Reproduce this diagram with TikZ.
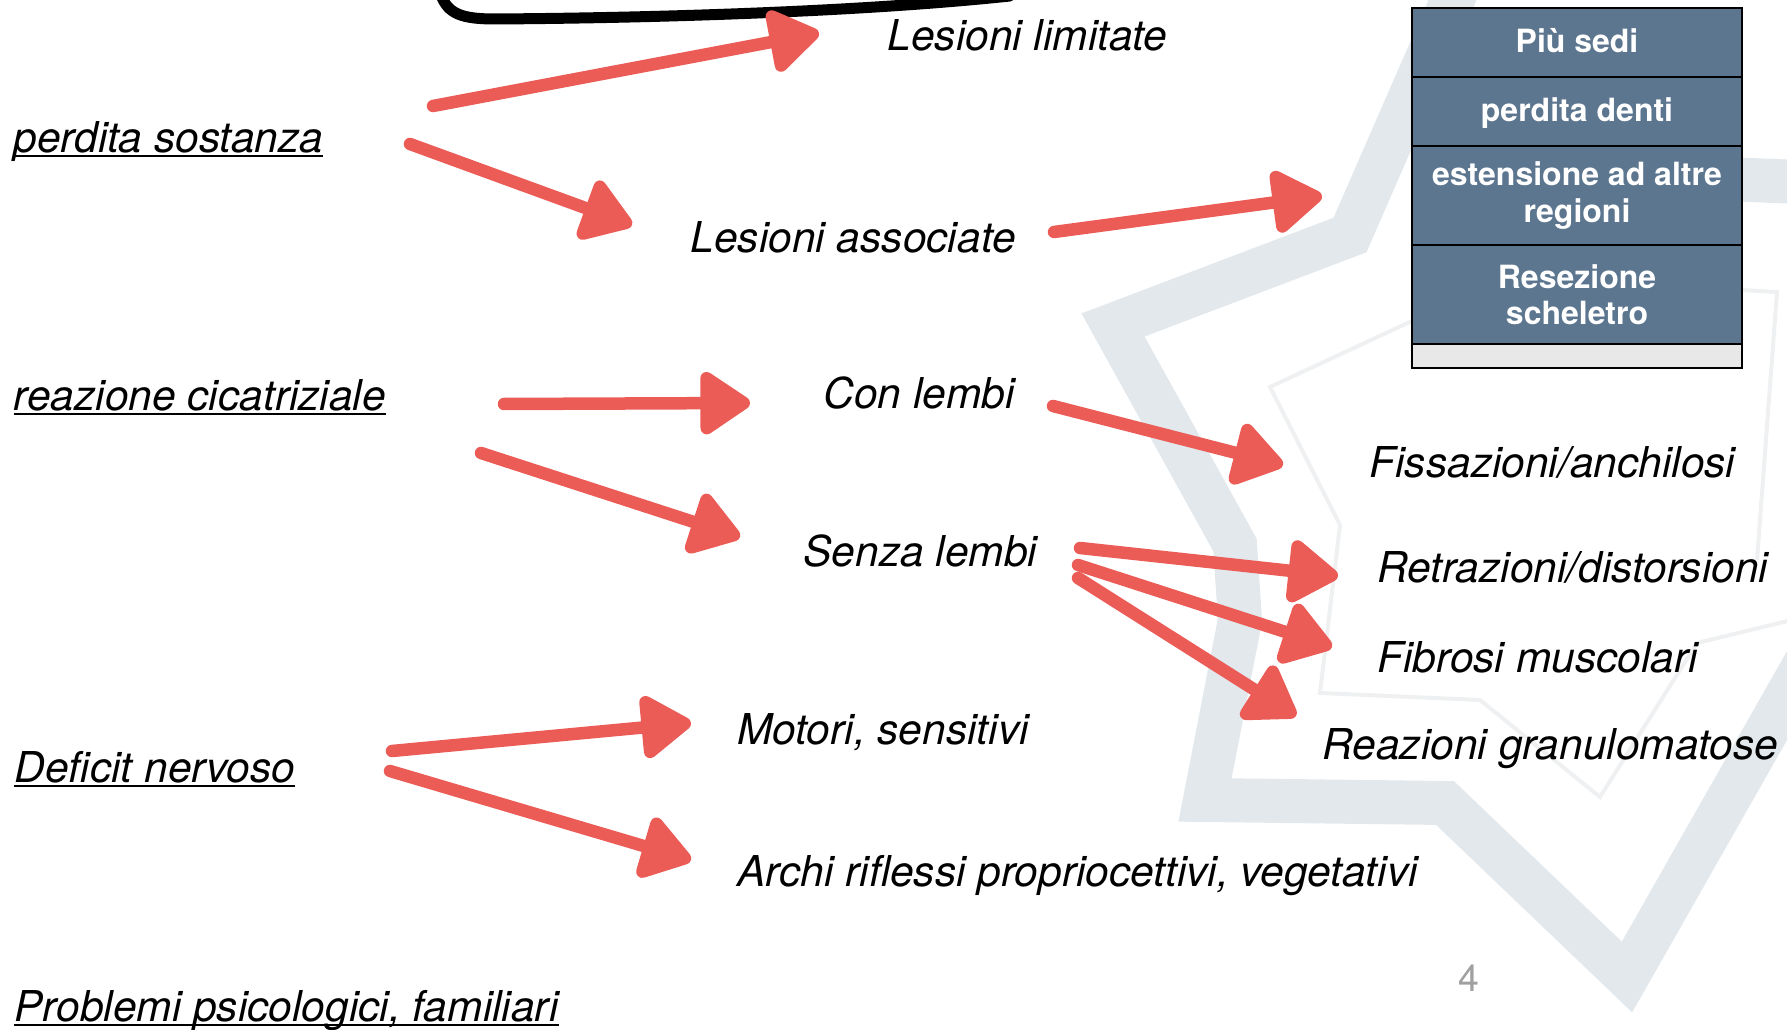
\documentclass[tikz,border=0pt]{standalone}
\usepackage{fontspec}
\setmainfont{TeX Gyre Heros}
\usetikzlibrary{arrows.meta}
\definecolor{arrowred}{RGB}{236,92,87}
\definecolor{tabfill}{RGB}{93,118,143}
\definecolor{tablast}{RGB}{232,232,232}
\definecolor{starband}{RGB}{226,232,236}
\definecolor{starline}{RGB}{239,240,241}
\definecolor{pagegray}{RGB}{160,160,160}
\newcommand{\ulx}[1]{\setbox0\hbox{#1}\rlap{\rule[-1.6pt]{\wd0}{0.8pt}}\box0}
\begin{document}
\begin{tikzpicture}[x=0.4pt,y=-0.4pt,
  lbl/.style={anchor=base west, inner sep=0pt, font=\fontsize{17}{20}\selectfont\itshape},
  rarrow/.style={draw=arrowred, line width=5pt, line cap=round,
    -{Triangle[length=22pt,width=28pt,round]}},
  cell/.style={draw=black, line width=0.8pt, fill=tabfill, text=white,
    font=\fontsize{12.8}{14.6}\selectfont\bfseries, align=center,
    minimum width=132pt, inner sep=0pt, anchor=north west},
  onecell/.style={cell, text height=8pt, text depth=0pt},
  pagenum/.style={font=\fontsize{15}{17}\selectfont, text=pagegray, inner sep=0pt},
  band/.style={draw=starband, line width=17.6pt, line join=miter},
  thinstar/.style={draw=starline, line width=1.6pt, line join=miter}]
\useasboundingbox (0,0) rectangle (1787,1030);
% background star watermark
\begin{scope}
  \clip (0,0) rectangle (1787,1030);
  \draw[band] (1470,-40) -- (1350,235) -- (1113,325) -- (1235,545) -- (1240,620)
     -- (1205,800) -- (1445,803) -- (1627,977) -- (1830,620);
  \draw[band] (1700,178) -- (1800,182);
  \draw[thinstar] (1414,320) -- (1270,387) -- (1340,525) -- (1320,693) -- (1480,700)
     -- (1600,797) -- (1697,643) -- (1800,618);
  \draw[thinstar] (1741,290) -- (1777,292) -- (1757,560);
\end{scope}
% hand-drawn black stroke at top
\draw[line width=4.4pt, line cap=round] (441,-5) .. controls (448,14) and (462,19) .. (495,19)
   .. controls (650,18) and (860,12) .. (1010,-4);
% labels
\node[lbl] (limitate) at (887,51) {Lesioni limitate};
\node[lbl] (perdita) at (13,153) {\ulx{perdita sostanza}};
\node[lbl] (associate) at (690,253) {Lesioni associate};
\node[lbl] (reazione) at (13,411) {\ulx{reazione cicatriziale}};
\node[lbl] (conlembi) at (823,409) {Con lembi};
\node[lbl] (fissaz) at (1369,478) {Fissazioni/anchilosi};
\node[lbl] (senza) at (803,567) {Senza lembi};
\node[lbl] (retraz) at (1377,583) {Retrazioni/distorsioni};
\node[lbl] (fibrosi) at (1377,673) {Fibrosi muscolari};
\node[lbl] (motori) at (737,745) {Motori, sensitivi};
\node[lbl] (granul) at (1322,760) {Reazioni granulomatose};
\node[lbl] (deficit) at (14,783) {\ulx{Deficit nervoso}};
\node[lbl] (archi) at (737,887) {Archi riflessi propriocettivi, vegetativi};
\node[lbl] (problemi) at (14,1022) {\ulx{Problemi psicologici, familiari}};
\node[pagenum] (pnum) at (1469,978) {4};
% table
\node[onecell, minimum height=27.6pt] (c1) at (1411,7) {Più sedi};
\node[onecell, minimum height=27.6pt] (c2) at (1411,76) {perdita denti};
\node[cell, minimum height=39.6pt] (c3) at (1411,145) {estensione ad altre\\regioni};
\node[cell, minimum height=39.6pt] (c4) at (1411,244) {Resezione\\scheletro};
\node[cell, fill=tablast, minimum height=9.6pt] (c5) at (1411,343) {};
% arrow end points
\coordinate (a1s) at (433,106);  \coordinate (a1t) at (819,33);
\coordinate (a2s) at (410,144);  \coordinate (a2t) at (632,225);
\coordinate (a3s) at (1054,232); \coordinate (a3t) at (1322,196);
\coordinate (a4s) at (504,404);  \coordinate (a4t) at (750,403);
\coordinate (a5s) at (481,453);  \coordinate (a5t) at (740,537);
\coordinate (a6s) at (1053,406); \coordinate (a6t) at (1283,465);
\coordinate (a7s) at (1080,548); \coordinate (a7t) at (1338,576);
\coordinate (a8s) at (1078,565); \coordinate (a8t) at (1332,647);
\coordinate (a9s) at (1078,578); \coordinate (a9t) at (1296,716);
\coordinate (a10s) at (392,751); \coordinate (a10t) at (691,723);
\coordinate (a11s) at (390,771); \coordinate (a11t) at (691,860);
% arrows
\draw[rarrow] (a1s) -- (a1t);
\draw[rarrow] (a2s) -- (a2t);
\draw[rarrow] (a3s) -- (a3t);
\draw[rarrow] (a4s) -- (a4t);
\draw[rarrow] (a5s) -- (a5t);
\draw[rarrow] (a6s) -- (a6t);
\draw[rarrow] (a7s) -- (a7t);
\draw[rarrow] (a8s) -- (a8t);
\draw[rarrow] (a9s) -- (a9t);
\draw[rarrow] (a10s) -- (a10t);
\draw[rarrow] (a11s) -- (a11t);
\end{tikzpicture}
\end{document}
